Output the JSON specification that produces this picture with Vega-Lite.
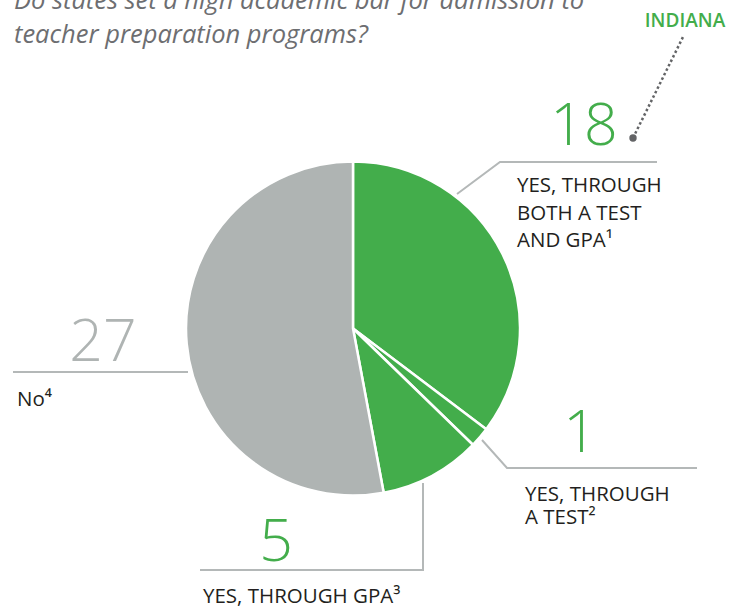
{
  "$schema": "https://vega.github.io/schema/vega-lite/v6.json",
  "width": 745,
  "height": 611,
  "padding": 0,
  "autosize": {"type": "none"},
  "background": "white",
  "config": {"view": {"stroke": null}},
  "datasets": {
    "slices": [
      {"cat": "Both", "n": 18, "o": 1},
      {"cat": "Test", "n": 1, "o": 2},
      {"cat": "GPA", "n": 5, "o": 3},
      {"cat": "No", "n": 27, "o": 4}
    ],
    "leaders": [
      {"g": "a", "i": 1, "x": 457, "y": 194},
      {"g": "a", "i": 2, "x": 500, "y": 162},
      {"g": "a", "i": 3, "x": 657, "y": 162},
      {"g": "b", "i": 1, "x": 482, "y": 440},
      {"g": "b", "i": 2, "x": 507, "y": 468},
      {"g": "b", "i": 3, "x": 697, "y": 468},
      {"g": "c", "i": 1, "x": 423, "y": 483},
      {"g": "c", "i": 2, "x": 423, "y": 570},
      {"g": "c", "i": 3, "x": 200, "y": 570},
      {"g": "d", "i": 1, "x": 13, "y": 372},
      {"g": "d", "i": 2, "x": 188, "y": 372}
    ],
    "pointer": [
      {"i": 1, "x": 633, "y": 138},
      {"i": 2, "x": 683, "y": 37}
    ],
    "greenNums": [
      {"t": "18", "x": 584, "y": 145},
      {"t": "1", "x": 580, "y": 452},
      {"t": "5", "x": 276, "y": 561}
    ],
    "grayNums": [
      {"t": "27", "x": 103, "y": 361}
    ],
    "labels": [
      {"t": "YES, THROUGH", "x": 517, "y": 192},
      {"t": "BOTH A TEST", "x": 517, "y": 220},
      {"t": "AND GPA¹", "x": 517, "y": 247},
      {"t": "YES, THROUGH", "x": 525, "y": 501},
      {"t": "A TEST²", "x": 525, "y": 524},
      {"t": "YES, THROUGH GPA³", "x": 203, "y": 603},
      {"t": "No⁴", "x": 17, "y": 406}
    ],
    "title": [
      {"t": "Do states set a high academic bar for admission to", "x": 14, "y": 9},
      {"t": "teacher preparation programs?", "x": 14, "y": 43}
    ],
    "state": [
      {"t": "INDIANA", "x": 685, "y": 27}
    ]
  },
  "layer": [
    {
      "data": {"name": "slices"},
      "mark": {"type": "arc", "outerRadius": 167, "stroke": "white", "strokeWidth": 2.5},
      "encoding": {
        "theta": {"field": "n", "type": "quantitative", "stack": true},
        "order": {"field": "o", "type": "quantitative"},
        "color": {"field": "cat", "type": "nominal", "legend": null,
          "scale": {"domain": ["Both", "Test", "GPA", "No"], "range": ["#43ad4b", "#43ad4b", "#43ad4b", "#afb4b3"]}},
        "x": {"datum": 353, "type": "quantitative", "scale": {"domain": [0, 745], "nice": false, "zero": false}, "axis": null},
        "y": {"datum": 328.5, "type": "quantitative", "scale": {"domain": [0, 611], "nice": false, "zero": false, "reverse": true}, "axis": null}
      }
    },
    {
      "data": {"name": "leaders"},
      "mark": {"type": "line", "color": "#b4b8b8", "strokeWidth": 2},
      "encoding": {
        "x": {"field": "x", "type": "quantitative"},
        "y": {"field": "y", "type": "quantitative"},
        "detail": {"field": "g"},
        "order": {"field": "i", "type": "quantitative"}
      }
    },
    {
      "data": {"name": "pointer"},
      "mark": {"type": "line", "color": "#636466", "strokeWidth": 2.5, "strokeDash": [2.5, 2.5]},
      "encoding": {
        "x": {"field": "x", "type": "quantitative"},
        "y": {"field": "y", "type": "quantitative"},
        "order": {"field": "i", "type": "quantitative"}
      }
    },
    {
      "data": {"name": "pointer"},
      "transform": [{"filter": "datum.i == 1"}],
      "mark": {"type": "circle", "color": "#636466", "opacity": 1, "size": 55},
      "encoding": {
        "x": {"field": "x", "type": "quantitative"},
        "y": {"field": "y", "type": "quantitative"}
      }
    },
    {
      "data": {"name": "greenNums"},
      "mark": {"type": "text", "font": "Open Sans", "fontWeight": 300, "fontSize": 59, "color": "#43ad4b", "align": "center", "baseline": "alphabetic"},
      "encoding": {
        "x": {"field": "x", "type": "quantitative"},
        "y": {"field": "y", "type": "quantitative"},
        "text": {"field": "t"}
      }
    },
    {
      "data": {"name": "grayNums"},
      "mark": {"type": "text", "font": "Open Sans", "fontWeight": 300, "fontSize": 59, "color": "#afb4b3", "align": "center", "baseline": "alphabetic"},
      "encoding": {
        "x": {"field": "x", "type": "quantitative"},
        "y": {"field": "y", "type": "quantitative"},
        "text": {"field": "t"}
      }
    },
    {
      "data": {"name": "labels"},
      "mark": {"type": "text", "font": "Open Sans", "fontSize": 20.5, "color": "#231f20", "align": "left", "baseline": "alphabetic"},
      "encoding": {
        "x": {"field": "x", "type": "quantitative"},
        "y": {"field": "y", "type": "quantitative"},
        "text": {"field": "t"}
      }
    },
    {
      "data": {"name": "title"},
      "mark": {"type": "text", "font": "Open Sans", "fontStyle": "italic", "fontSize": 25.5, "color": "#6d6e71", "align": "left", "baseline": "alphabetic"},
      "encoding": {
        "x": {"field": "x", "type": "quantitative"},
        "y": {"field": "y", "type": "quantitative"},
        "text": {"field": "t"}
      }
    },
    {
      "data": {"name": "state"},
      "mark": {"type": "text", "font": "Open Sans", "fontWeight": 600, "fontSize": 19, "color": "#43ad4b", "align": "center", "baseline": "alphabetic"},
      "encoding": {
        "x": {"field": "x", "type": "quantitative"},
        "y": {"field": "y", "type": "quantitative"},
        "text": {"field": "t"}
      }
    }
  ]
}
